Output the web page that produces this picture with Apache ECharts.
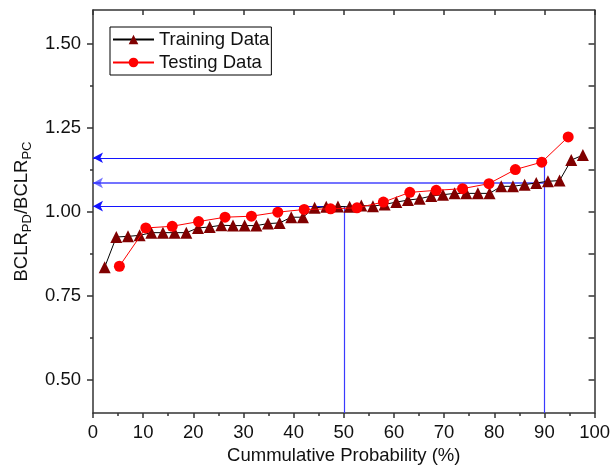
<!DOCTYPE html>
<html>
<head>
<meta charset="utf-8">
<script src="https://cdn.jsdelivr.net/npm/echarts@6/dist/echarts.min.js"></script>
<style>html,body{margin:0;padding:0;background:#fff;}#c{width:613px;height:471px;}</style>
</head>
<body>
<div id="c"></div>
<script>
// Training data (42 points, plotting position i/(n+1))
const trainProb = [2.33,4.65,6.98,9.30,11.63,13.95,16.28,18.60,20.93,23.26,25.58,27.91,30.23,32.56,34.88,37.21,39.53,41.86,44.19,46.51,48.84,51.16,53.49,55.81,58.14,60.47,62.79,65.12,67.44,69.77,72.09,74.42,76.74,79.07,81.40,83.72,86.05,88.37,90.70,93.02,95.35,97.67];
const trainRatio = [0.834,0.924,0.926,0.929,0.937,0.937,0.937,0.937,0.951,0.954,0.959,0.958,0.958,0.958,0.964,0.966,0.983,0.983,1.011,1.014,1.015,1.014,1.018,1.016,1.021,1.028,1.034,1.038,1.046,1.050,1.054,1.054,1.054,1.054,1.075,1.075,1.080,1.085,1.090,1.092,1.153,1.168];
// Testing data (18 points)
const testProb = [5.26,10.53,15.79,21.05,26.32,31.58,36.84,42.11,47.37,52.63,57.89,63.16,68.42,73.68,78.95,84.21,89.47,94.74];
const testRatio = [0.837,0.951,0.956,0.970,0.983,0.986,0.998,1.006,1.008,1.011,1.028,1.057,1.063,1.068,1.083,1.125,1.147,1.222];
// Guide lines
const guideProb = [50, 90, 90];
const guideRatio = [1.016, 1.085, 1.160];
const yMajor = [0.5, 0.75, 1.0, 1.25, 1.5];
const yMinor = [0.625, 0.875, 1.125, 1.375];

const FONT = 'Arial, "Liberation Sans", sans-serif';
const FS = 18.5;
const AX = '#333';
const BLUE = '#1414ff';
const chart = echarts.init(document.getElementById('c'));

const hLines = guideProb.map((p, i) => ({
  lineStyle: { color: i === 1 ? 'rgba(40,40,255,0.65)' : BLUE, width: i === 1 ? 2 : 1, type: 'solid', opacity: 1 },
  symbol: ['arrow', 'none'], symbolSize: [8, 10],
  coords: [[0, guideRatio[i]], [p, guideRatio[i]]]
}));
const vLines = [
  { coords: [[guideProb[0], 0.4], [guideProb[0], guideRatio[0]]] },
  { coords: [[guideProb[2], 0.4], [guideProb[2], guideRatio[2]]] }
].map(d => Object.assign(d, { symbol: ['none', 'none'], symbolSize: 0, lineStyle: { color: '#3a3aff', width: 1.2, type: 'solid', opacity: 1 } }));

function toData(xs, ys) { return xs.map((x, i) => [x, ys[i]]); }

chart.setOption({
  animation: false,
  backgroundColor: '#fff',
  grid: { left: 93, right: 16, top: 10, bottom: 58, containLabel: false },
  legend: {
    orient: 'vertical', left: 110, top: 27,
    padding: [3, 2, 3, 2], itemGap: 4, itemWidth: 41, itemHeight: 12,
    borderColor: '#000', borderWidth: 1, backgroundColor: '#fff',
    textStyle: { fontFamily: FONT, fontSize: FS, color: '#111' },
    data: ['Training Data', 'Testing Data']
  },
  xAxis: [
    {
      type: 'value', min: 0, max: 100, interval: 10, position: 'bottom',
      name: 'Cummulative Probability (%)', nameLocation: 'middle', nameGap: 33,
      nameTextStyle: { fontFamily: FONT, fontSize: FS, color: '#111' },
      axisLine: { show: true, onZero: false, lineStyle: { color: AX, width: 1.5 } },
      axisTick: { show: true, inside: false, length: 5, lineStyle: { color: AX, width: 1.5 } },
      minorTick: { show: true, splitNumber: 2, length: 3, lineStyle: { color: AX, width: 1.5 } },
      axisLabel: { margin: 10, fontFamily: FONT, fontSize: FS, color: '#111' },
      splitLine: { show: false }
    },
    {
      type: 'value', min: 0, max: 100, interval: 10, position: 'top',
      axisLine: { show: true, onZero: false, lineStyle: { color: AX, width: 1.5 } },
      axisTick: { show: true, inside: true, length: 5, lineStyle: { color: AX, width: 1.5 } },
      minorTick: { show: false },
      axisLabel: { show: false }, splitLine: { show: false }
    }
  ],
  yAxis: [
    {
      type: 'value', min: 0.4, max: 1.6, position: 'left',
      name: '{a|BCLR}{b|PD}{a|/BCLR}{b|PC}', nameLocation: 'middle', nameGap: 56,
      nameTextStyle: {
        fontFamily: FONT, color: '#111',
        rich: {
          a: { fontFamily: FONT, fontSize: FS, color: '#111' },
          b: { fontFamily: FONT, fontSize: 13, color: '#111', padding: [11, 0, 0, 0] }
        }
      },
      axisLine: { show: true, onZero: false, lineStyle: { color: AX, width: 1.5 } },
      axisTick: { show: true, inside: false, length: 6, customValues: yMajor, lineStyle: { color: AX, width: 1.5 } },
      axisLabel: { margin: 12, customValues: yMajor, fontFamily: FONT, fontSize: FS, color: '#111', formatter: v => v.toFixed(2) },
      splitLine: { show: false }
    },
    {
      type: 'value', min: 0.4, max: 1.6, position: 'left',
      axisLine: { show: false },
      axisTick: { show: true, inside: false, length: 3, customValues: yMinor, lineStyle: { color: AX, width: 1.5 } },
      axisLabel: { show: false }, splitLine: { show: false }
    },
    {
      type: 'value', min: 0.4, max: 1.6, position: 'right',
      axisLine: { show: true, onZero: false, lineStyle: { color: AX, width: 1.5 } },
      axisTick: { show: true, inside: true, length: 6, customValues: yMajor.concat(yMinor), lineStyle: { color: AX, width: 1.5 } },
      axisLabel: { show: false }, splitLine: { show: false }
    }
  ],
  series: [
    {
      name: 'guides', type: 'line', data: [], xAxisIndex: 0, yAxisIndex: 0, z: 1,
      color: BLUE,
      markLine: {
        silent: true, animation: false, label: { show: false }, z: 1,
        lineStyle: { color: BLUE, width: 1, type: 'solid', opacity: 1 },
        emphasis: { disabled: true },
        data: hLines.concat(vLines).map(d => [
          { coord: d.coords[0], symbol: d.symbol[0], lineStyle: d.lineStyle, symbolSize: d.symbolSize },
          { coord: d.coords[1], symbol: d.symbol[1], lineStyle: d.lineStyle }
        ])
      }
    },
    {
      name: 'Training Data', type: 'line', xAxisIndex: 0, yAxisIndex: 0, z: 3,
      data: toData(trainProb, trainRatio),
      symbol: 'triangle', symbolSize: 12,
      itemStyle: { color: '#800000' },
      lineStyle: { color: '#000', width: 1 }
    },
    {
      name: 'Testing Data', type: 'line', xAxisIndex: 0, yAxisIndex: 0, z: 4,
      data: toData(testProb, testRatio),
      symbol: 'circle', symbolSize: 11,
      itemStyle: { color: '#ff0000' },
      lineStyle: { color: '#ff0000', width: 1 }
    }
  ]
});
</script>
</body>
</html>
